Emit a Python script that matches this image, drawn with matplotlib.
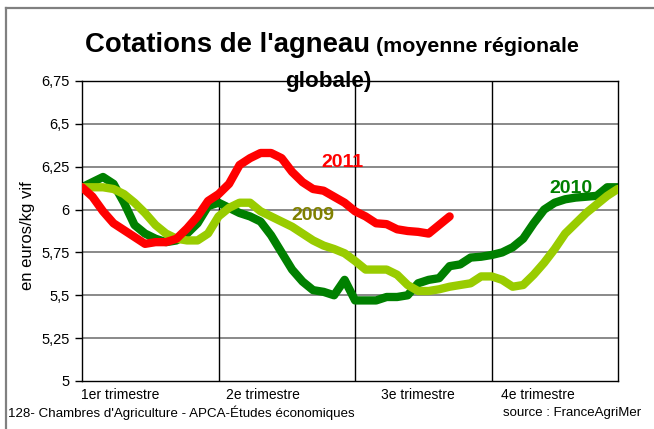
import matplotlib
matplotlib.use("Agg")
import matplotlib.pyplot as plt
from matplotlib import font_manager
from matplotlib.lines import Line2D
import numpy as np

# ---- data (weekly, 52 weeks) ----
weeks = list(range(52))
v2009 = [6.13, 6.13, 6.13, 6.12, 6.09, 6.04, 5.98, 5.91, 5.86, 5.83,
         5.82, 5.82, 5.86, 5.96, 6.01, 6.04, 6.04, 5.99, 5.96, 5.93,
         5.90, 5.86, 5.82, 5.79, 5.77, 5.745, 5.70, 5.65, 5.65, 5.65,
         5.62, 5.56, 5.525, 5.525, 5.535, 5.55, 5.56, 5.57, 5.61, 5.61,
         5.59, 5.55, 5.56, 5.62, 5.69, 5.77, 5.86, 5.92, 5.98, 6.03,
         6.08, 6.12]
v2010 = [6.13, 6.16, 6.19, 6.15, 6.04, 5.91, 5.86, 5.83, 5.81, 5.82,
         5.86, 5.92, 6.02, 6.04, 6.01, 5.98, 5.96, 5.93, 5.85, 5.75,
         5.65, 5.58, 5.53, 5.52, 5.50, 5.59, 5.47, 5.47, 5.47, 5.49,
         5.49, 5.50, 5.57, 5.59, 5.60, 5.67, 5.68, 5.72, 5.725, 5.735,
         5.75, 5.78, 5.83, 5.92, 6.00, 6.04, 6.06, 6.07, 6.075, 6.08,
         6.13, 6.13]
v2011 = [6.13, 6.075, 5.99, 5.92, 5.88, 5.84, 5.80, 5.81, 5.81, 5.83,
         5.89, 5.96, 6.05, 6.09, 6.15, 6.26, 6.30, 6.33, 6.33, 6.30,
         6.22, 6.16, 6.12, 6.11, 6.075, 6.04, 5.99, 5.96, 5.92, 5.915,
         5.885, 5.875, 5.87, 5.86, 5.91, 5.96]

yticks = [5, 5.25, 5.5, 5.75, 6, 6.25, 6.5, 6.75]
ytick_labels = ["5", "5,25", "5,5", "5,75", "6", "6,25", "6,5", "6,75"]
quarter_bounds = [0, 13, 26, 39, 51]
xlabel_pos = [3.6, 17.2, 32.0, 43.4]
xlabel_txt = ["1er trimestre", "2e trimestre", "3e trimestre", "4e trimestre"]

# ---- fonts ----
avail = {f.name for f in font_manager.fontManager.ttflist}
narrow = "Liberation Sans Narrow" if "Liberation Sans Narrow" in avail else "Liberation Sans"
regular = "Liberation Sans" if "Liberation Sans" in avail else "DejaVu Sans"

fig = plt.figure(figsize=(6.54, 4.29), dpi=100)
W, H = 654, 429
L, R, T, B = 82, 617.7, 81, 381
ax = fig.add_axes([L / W, 1 - B / H, (R - L) / W, (B - T) / H])

ax.set_xlim(0, 51)
ax.set_ylim(5, 6.75)

# grid
for y in yticks[1:-1]:
    ax.axhline(y, color="#808080", lw=1.3, zorder=1)
for x in quarter_bounds[1:-1]:
    ax.axvline(x, color="black", lw=1.0, zorder=1)

lw = 6.0
ax.plot(weeks, v2009, color="#99CC00", lw=lw, solid_capstyle="round", solid_joinstyle="round", zorder=3)
ax.plot(weeks, v2010, color="#008000", lw=lw, solid_capstyle="round", solid_joinstyle="round", zorder=2)
ax.plot(weeks[:len(v2011)], v2011, color="#FF0000", lw=lw, solid_capstyle="round", solid_joinstyle="round", zorder=4)

ax.set_yticks(yticks)
ax.set_yticklabels(ytick_labels, fontfamily=narrow, fontsize=10.5)
ax.tick_params(axis="y", direction="out", length=5, width=1, pad=4, color="black")
ax.set_xticks(xlabel_pos)
ax.set_xticklabels(xlabel_txt, fontfamily=narrow, fontsize=10)
ax.tick_params(axis="x", length=0, pad=5)
for s in ax.spines.values():
    s.set_color("black")
    s.set_linewidth(1.0)

ax.set_ylabel("en euros/kg vif", fontfamily=regular, fontsize=12)
ax.yaxis.set_label_coords(-0.088, 0.483)

# series labels
ax.text(22.8, 6.275, "2011", color="#FF0000", fontfamily=narrow, fontsize=14,
        fontweight="bold", ha="left", va="center")
ax.text(19.95, 5.965, "2009", color="#808000", fontfamily=narrow, fontsize=14,
        fontweight="bold", ha="left", va="center")
ax.text(44.5, 6.125, "2010", color="#008000", fontfamily=narrow, fontsize=14,
        fontweight="bold", ha="left", va="center")

# title
t1 = fig.text(85 / W, 1 - 52 / H, "Cotations de l'agneau", fontfamily=narrow, fontsize=19.8,
              fontweight="bold", ha="left", va="baseline")
renderer = fig.canvas.get_renderer()
bb = t1.get_window_extent(renderer=renderer)
x2 = bb.x1 + 6
fig.text(x2 / W, 1 - 52 / H, "(moyenne régionale", fontfamily=narrow, fontsize=15.4,
         fontweight="bold", ha="left", va="baseline")
fig.text(328 / W, 1 - 87 / H, "globale)", fontfamily=narrow, fontsize=16.2,
         fontweight="bold", ha="center", va="baseline", zorder=10)

# footer
fig.text(8 / W, 1 - 413 / H, "128- Chambres d'Agriculture - APCA-Études économiques",
         fontfamily=narrow, fontsize=9.6, ha="left", va="center")
fig.text(641 / W, 1 - 413 / H, "source : FranceAgriMer",
         fontfamily=narrow, fontsize=9.5, ha="right", va="center")

# outer frame (left and top visible)
fig.add_artist(Line2D([6 / W, 6 / W], [0, 1 - 8 / H], transform=fig.transFigure,
                      color="#808080", lw=1.6))
fig.add_artist(Line2D([6 / W, 1], [1 - 8 / H, 1 - 8 / H], transform=fig.transFigure,
                      color="#808080", lw=1.6))

fig.savefig("out.png", dpi=100)
